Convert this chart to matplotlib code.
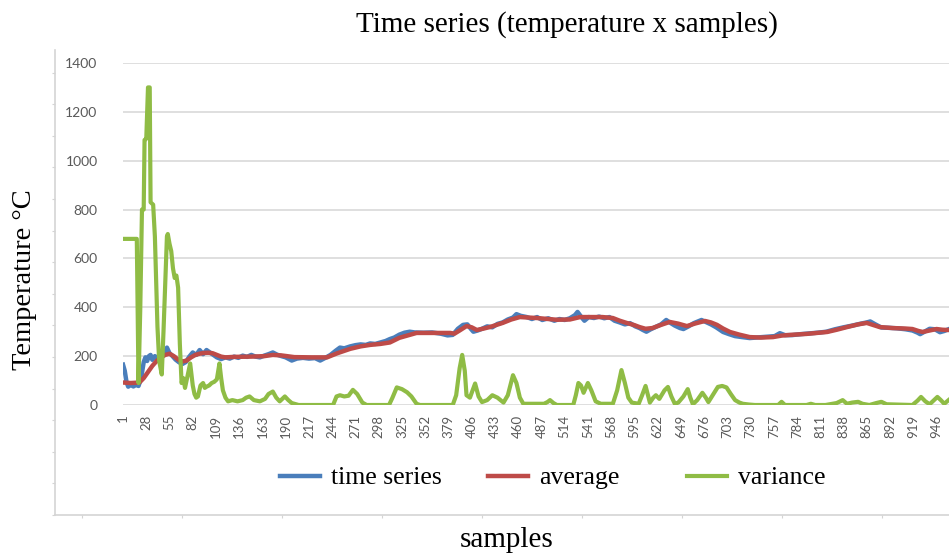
import matplotlib.pyplot as plt
import numpy as np

# samples / values (sample index, temperature)
ts_samples = [1, 3, 5, 7, 10, 13, 16, 19, 22, 25, 27, 29, 31, 33, 35, 38, 40, 43, 46, 49,
              52, 55, 58, 62, 66, 70, 74, 78, 82, 86, 90, 94, 98, 102, 106, 110, 115, 120,
              125, 130, 135, 140, 145, 150, 155, 160, 165, 170, 175, 180, 185, 190, 197,
              203, 210, 217, 224, 230, 236, 242, 248, 253, 258, 265, 271, 277, 283, 288,
              294, 300, 306, 311, 316, 322, 328, 334, 340, 350, 360, 370, 378, 384, 390,
              396, 401, 405, 408, 413, 418, 424, 430, 436, 442, 448, 454, 458, 463, 470,
              476, 482, 488, 495, 502, 508, 514, 520, 526, 529, 533, 537, 542, 548, 554,
              560, 566, 572, 578, 584, 590, 596, 601, 605, 609, 614, 620, 626, 632, 636,
              642, 648, 652, 658, 664, 669, 673, 678, 684, 690, 698, 705, 712, 720, 729,
              740, 750, 758, 764, 770, 778, 788, 798, 808, 818, 828, 838, 848, 858, 865,
              869, 875, 882, 890, 900, 910, 918, 924, 927, 932, 938, 944, 950, 955, 960]
ts_values = [165, 140, 95, 75, 82, 76, 82, 78, 110, 175, 195, 180, 200, 205, 185, 200, 195,
             178, 195, 210, 235, 212, 202, 186, 175, 168, 176, 198, 215, 205, 225, 208, 225,
             215, 205, 195, 188, 195, 190, 198, 193, 202, 197, 205, 198, 195, 202, 208, 215,
             206, 200, 195, 182, 190, 193, 190, 192, 182, 193, 205, 222, 235, 232, 240, 245,
             248, 246, 252, 250, 256, 262, 270, 276, 288, 296, 300, 297, 296, 297, 292, 285,
             287, 312, 328, 330, 312, 300, 305, 312, 322, 318, 332, 338, 350, 358, 372, 365,
             360, 352, 360, 348, 355, 345, 352, 348, 355, 368, 381, 362, 345, 360, 356, 362,
             355, 360, 345, 338, 330, 335, 322, 315, 307, 300, 310, 320, 330, 348, 338, 325,
             315, 311, 322, 335, 342, 348, 340, 330, 318, 299, 290, 282, 278, 274, 277, 280,
             282, 294, 286, 286, 290, 293, 296, 300, 310, 318, 325, 333, 338, 342, 330, 317,
             316, 314, 310, 305, 296, 290, 300, 312, 310, 298, 303, 310]

avg_samples = [1, 10, 20, 25, 30, 35, 40, 45, 50, 55, 60, 65, 70, 75, 80, 85, 90, 95, 100,
               105, 110, 115, 120, 130, 150, 165, 175, 185, 200, 220, 238, 250, 265, 277,
               288, 300, 311, 322, 334, 342, 381, 386, 392, 400, 406, 412, 420, 427, 435,
               442, 452, 462, 472, 482, 495, 505, 520, 532, 545, 558, 570, 578, 586, 595,
               601, 608, 616, 626, 636, 646, 656, 666, 677, 684, 691, 698, 706, 717, 729,
               742, 756, 766, 776, 795, 819, 830, 842, 855, 865, 872, 880, 895, 910, 918,
               925, 930, 938, 946, 953, 960]
avg_values = [92, 90, 92, 110, 135, 160, 180, 195, 205, 210, 200, 186, 178, 182, 195, 205,
              210, 213, 214, 212, 205, 198, 195, 197, 198, 200, 205, 203, 196, 195, 195, 212,
              230, 240, 246, 250, 256, 275, 287, 295, 295, 292, 305, 323, 318, 307, 313, 319,
              328, 336, 350, 360, 358, 356, 352, 349, 350, 360, 360, 360, 356, 345, 336, 327,
              319, 312, 315, 328, 340, 333, 323, 334, 344, 338, 328, 313, 299, 288, 278, 276,
              278, 284, 287, 291, 299, 308, 319, 330, 336, 328, 319, 315, 313, 311, 303, 299,
              305, 311, 308, 307]

var_samples = [1, 17, 18, 19, 21, 23, 25, 26, 28, 30, 32, 33, 36, 38, 41, 43, 46, 48, 50, 52,
               53, 55, 57, 59, 61, 63, 65, 67, 69, 71, 73, 76, 79, 82, 84, 86, 88, 91, 94, 96,
               98, 101, 104, 107, 110, 113, 115, 117, 120, 123, 128, 134, 140, 144, 148, 153,
               160, 166, 170, 175, 179, 183, 189, 193, 197, 205, 245, 249, 253, 258, 263, 268,
               273, 279, 284, 310, 314, 319, 325, 331, 336, 342, 346, 384, 388, 392, 395, 398,
               400, 404, 410, 414, 418, 424, 430, 436, 443, 448, 454, 458, 462, 466, 490, 494,
               497, 501, 505, 524, 527, 530, 533, 536, 541, 545, 550, 556, 570, 575, 580, 584,
               588, 592, 600, 604, 608, 613, 617, 620, 624, 630, 634, 638, 642, 646, 652, 657,
               660, 663, 668, 674, 678, 681, 686, 692, 697, 702, 707, 712, 717, 721, 728, 735,
               762, 766, 770, 795, 800, 805, 817, 830, 837, 842, 848, 855, 860, 868, 876, 882,
               888, 918, 924, 928, 933, 938, 943, 947, 951, 955, 960]
var_values = [680, 680, 400, 90, 390, 800, 800, 1085, 1090, 1300, 1300, 830, 820, 690, 320,
              180, 125, 300, 500, 690, 700, 660, 630, 560, 520, 530, 480, 250, 90, 110, 70, 120,
              170, 80, 45, 30, 35, 80, 90, 70, 75, 80, 90, 95, 105, 170, 110, 60, 30, 15, 20, 15,
              20, 30, 35, 20, 15, 25, 45, 55, 30, 15, 35, 20, 8, 0, 0, 35, 40, 35, 38, 62, 45, 10,
              0, 0, 30, 72, 65, 52, 35, 5, 0, 0, 40, 150, 205, 140, 40, 30, 88, 35, 12, 20, 40,
              30, 10, 40, 122, 90, 30, 5, 5, 12, 20, 8, 0, 0, 40, 90, 80, 50, 90, 60, 15, 5, 5,
              60, 143, 90, 30, 10, 5, 40, 78, 10, 30, 40, 25, 60, 74, 35, 5, 10, 35, 65, 30, 3,
              20, 50, 30, 12, 40, 74, 78, 72, 45, 20, 10, 5, 2, 0, 0, 13, 0, 0, 5, 0, 0, 8, 20,
              5, 10, 13, 5, 0, 8, 13, 3, 0, 18, 33, 15, 3, 20, 33, 20, 5, 20]

n_samples = 960
tick_labels = list(range(1, n_samples, 27))

W, H = 949, 554
fig = plt.figure(figsize=(W / 100, H / 100), dpi=100)

# faint outer frame of the pasted chart
frame = fig.add_axes([55 / W, (H - 515) / H, (W - 55) / W, 465 / H], zorder=0)
frame.set_xlim(0, W - 55)
frame.set_ylim(0, 465)
frame.patch.set_visible(False)
for side in ['top', 'right']:
    frame.spines[side].set_visible(False)
for side in ['left', 'bottom']:
    frame.spines[side].set_color('#d4d4d4')
    frame.spines[side].set_linewidth(1.2)
frame.set_xticks(np.arange(27, W - 55, 100))
frame.set_yticks(np.arange(0, 465, 31.6))
frame.tick_params(length=2, color='#d4d4d4', labelbottom=False, labelleft=False)

# main chart area
ax = fig.add_axes([122.6 / W, (H - 405) / H, (W - 122.6) / W, 342 / H], zorder=1)
l_ts, = ax.plot(ts_samples, ts_values, color='#4A7EBB', lw=3.2, label='time series', zorder=2)
l_avg, = ax.plot(avg_samples, avg_values, color='#BE4B48', lw=3.2, label='average', zorder=3)
l_var, = ax.plot(var_samples, var_values, color='#8FBC45', lw=3.0, label='variance', zorder=4)

ax.set_xlim(0.5, n_samples + 0.5)
ax.set_ylim(0, 1400)
ax.set_yticks(range(0, 1401, 200))
ax.set_xticks(tick_labels)
ax.set_xticklabels([str(t) for t in tick_labels], rotation=90, family='Lato',
                   fontsize=9.5, color='#595959')
ax.set_yticklabels([str(v) for v in range(0, 1401, 200)], family='Lato',
                   fontsize=10, color='#595959')
ax.tick_params(axis='both', length=0)
ax.tick_params(axis='x', pad=7)
ax.tick_params(axis='y', pad=18)
ax.grid(axis='y', color='#d9d9d9', lw=1.2, zorder=0)
ax.set_axisbelow(True)
for side in ax.spines:
    ax.spines[side].set_visible(False)
ax.patch.set_visible(False)

# legend entries sit at uneven spacing, so place each one on its own
legend_font = {'family': 'Liberation Serif', 'size': 18.5}
for handle, x_left in [(l_ts, 280), (l_avg, 488), (l_var, 687)]:
    fig.legend(handles=[handle], loc='center left', bbox_to_anchor=(x_left / W, 1 - 478 / H),
               frameon=False, prop=legend_font, handlelength=1.55, handletextpad=0.45,
               borderpad=0, borderaxespad=0)

fig.text(567 / W, 1 - 25 / H, 'Time series (temperature x samples)', ha='center',
         va='center', family='Liberation Serif', fontsize=21)
fig.text(25 / W, 1 - 280 / H, 'Temperature °C', ha='center', va='center', rotation=90,
         family='Liberation Serif', fontsize=20.5)
fig.text(507 / W, 1 - 540 / H, 'samples', ha='center', va='center',
         family='Liberation Serif', fontsize=21)

fig.savefig('out.png', dpi=100)
